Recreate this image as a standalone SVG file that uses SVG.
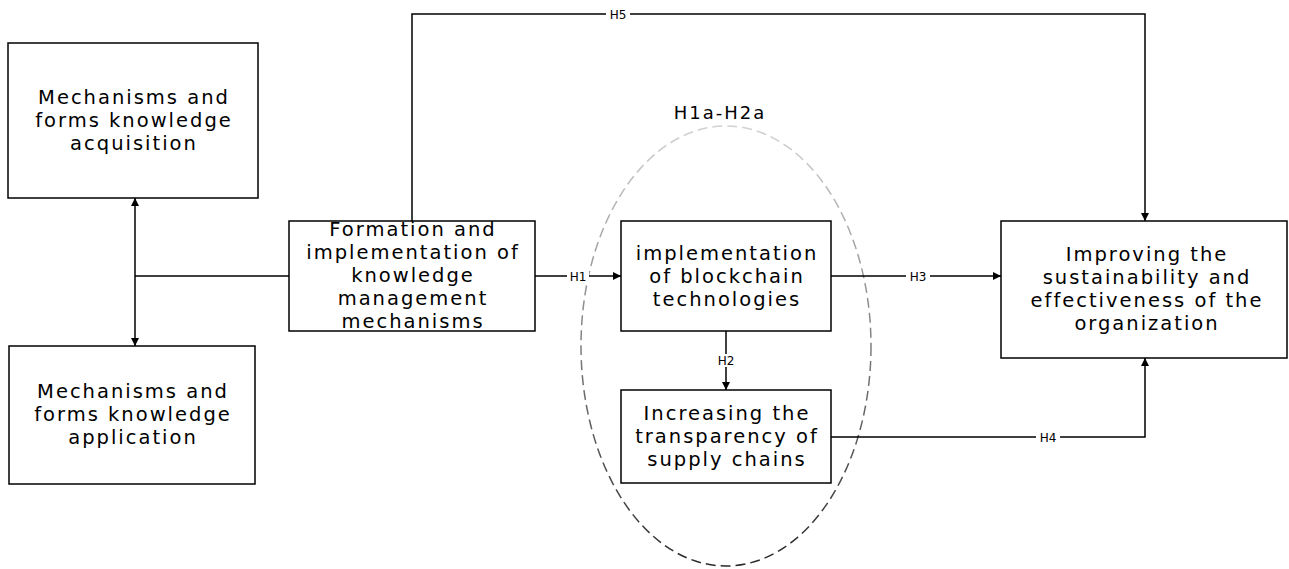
<svg xmlns="http://www.w3.org/2000/svg" width="1289" height="569" viewBox="0 0 1289 569">
<style>
.box{fill:#fff;stroke:#000;stroke-width:1.5}
.t{font-family:"DejaVu Sans",sans-serif;font-size:19.5px;fill:#000;text-anchor:middle;letter-spacing:2px}
.lbl{font-family:"DejaVu Sans",sans-serif;font-size:12px;fill:#000;text-anchor:middle}
.c{fill:none;stroke:#000;stroke-width:1.5}
.bg{fill:#fff}
</style>
<defs>
<marker id="ah" viewBox="0 0 10 10" refX="10" refY="5" markerWidth="8" markerHeight="8" markerUnits="userSpaceOnUse" orient="auto-start-reverse">
<path d="M0,0 L10,5 L0,10 z" fill="#000"/>
</marker>
<linearGradient id="eg" x1="0" y1="0" x2="0" y2="1">
<stop offset="0" stop-color="#d2d2d2"/>
<stop offset="1" stop-color="#2a2a2a"/>
</linearGradient>
</defs>
<rect width="1289" height="569" fill="#fff"/>
<g id="group-ellipse">
<ellipse cx="726" cy="346" rx="145" ry="220" fill="none" stroke="url(#eg)" stroke-width="1.5" stroke-dasharray="10,5"/>
<text x="720" y="119" class="t" style="font-size:18px;letter-spacing:2px">H1a-H2a</text>
</g>
<g id="connectors">
<path class="c" d="M135,276 H289"/>
<path class="c" d="M135,198 V346" marker-start="url(#ah)" marker-end="url(#ah)"/>
<path class="c" d="M412,221 V14 H1145 V221" marker-end="url(#ah)"/>
<path class="c" d="M535,276 H621" marker-end="url(#ah)"/>
<path class="c" d="M831,276 H1001" marker-end="url(#ah)"/>
<path class="c" d="M726,331 V390" marker-end="url(#ah)"/>
<path class="c" d="M831,437 H1145 V358" marker-end="url(#ah)"/>
<rect class="bg" x="606" y="7" width="24" height="14"/>
<text class="lbl" x="618" y="19">H5</text>
<rect class="bg" x="567" y="270" width="22" height="12"/>
<text class="lbl" x="578" y="281">H1</text>
<rect class="bg" x="906" y="270" width="24" height="12"/>
<text class="lbl" x="918" y="281">H3</text>
<rect class="bg" x="715" y="354" width="22" height="13"/>
<text class="lbl" x="726" y="365">H2</text>
<rect class="bg" x="1036" y="431" width="24" height="13"/>
<text class="lbl" x="1048" y="442">H4</text>
</g>
<g id="node-acquisition">
<rect class="box" x="8" y="43" width="250" height="155"/>
<text class="t" x="134" y="104">Mechanisms and</text>
<text class="t" x="134" y="127">forms knowledge</text>
<text class="t" x="134" y="150">acquisition</text>
</g>
<g id="node-application">
<rect class="box" x="9" y="346" width="246" height="138"/>
<text class="t" x="133" y="398">Mechanisms and</text>
<text class="t" x="133" y="421">forms knowledge</text>
<text class="t" x="133" y="444">application</text>
</g>
<g id="node-formation">
<rect class="box" x="289" y="221" width="246" height="110"/>
<text class="t" x="413" y="236">Formation and</text>
<text class="t" x="413" y="259">implementation of</text>
<text class="t" x="413" y="282">knowledge</text>
<text class="t" x="413" y="305">management</text>
<text class="t" x="413" y="328">mechanisms</text>
</g>
<g id="node-blockchain">
<rect class="box" x="621" y="221" width="210" height="110"/>
<text class="t" x="727" y="260">implementation</text>
<text class="t" x="727" y="283">of blockchain</text>
<text class="t" x="727" y="306">technologies</text>
</g>
<g id="node-transparency">
<rect class="box" x="621" y="390" width="210" height="93"/>
<text class="t" x="727" y="420">Increasing the</text>
<text class="t" x="727" y="443">transparency of</text>
<text class="t" x="727" y="466">supply chains</text>
</g>
<g id="node-sustainability">
<rect class="box" x="1001" y="221" width="286" height="137"/>
<text class="t" x="1147" y="261">Improving the</text>
<text class="t" x="1147" y="284">sustainability and</text>
<text class="t" x="1147" y="307">effectiveness of the</text>
<text class="t" x="1147" y="330">organization</text>
</g>
</svg>
